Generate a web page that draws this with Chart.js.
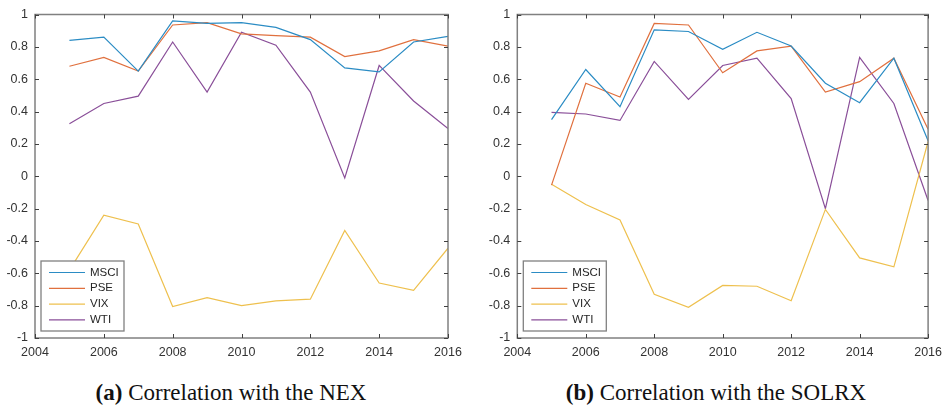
<!DOCTYPE html>
<html>
<head>
<meta charset="utf-8">
<script src="https://cdn.jsdelivr.net/npm/chart.js@4.4.0/dist/chart.umd.min.js"></script>
<style>
  body { margin: 0; background: #fff; }
  #wrap { position: relative; width: 949px; height: 407px; overflow: hidden; }
  canvas { position: absolute; top: 0; }
  .cap {
    position: absolute; top: 381px; line-height: 23px;
    font-family: 'Liberation Serif', 'Times New Roman', serif; font-size: 23px;
    color: #111; white-space: nowrap; transform: translateX(-50%);
  }
</style>
</head>
<body>
<div id="wrap">
  <canvas id="nex" width="474" height="365" style="left:0px"></canvas>
  <canvas id="solrx" width="475" height="365" style="left:474px"></canvas>
  <div class="cap" style="left:231px"><b>(a)</b> Correlation with the NEX</div>
  <div class="cap" style="left:716px"><b>(b)</b> Correlation with the SOLRX</div>
</div>
<script>
// years on the x axis
const years = [2005, 2006, 2007, 2008, 2009, 2010, 2011, 2012, 2013, 2014, 2015, 2016];
const seriesNames = ['MSCI', 'PSE', 'VIX', 'WTI'];

// (a) correlation with the NEX
const nexMSCI = [0.84, 0.86, 0.65, 0.96, 0.945, 0.95, 0.92, 0.845, 0.67, 0.645, 0.83, 0.865];
const nexPSE  = [0.68, 0.735, 0.65, 0.935, 0.95, 0.88, 0.87, 0.86, 0.74, 0.775, 0.845, 0.805];
const nexVIX  = [-0.58, -0.24, -0.295, -0.805, -0.75, -0.80, -0.77, -0.76, -0.335, -0.66, -0.705, -0.445];
const nexWTI  = [0.325, 0.45, 0.495, 0.83, 0.52, 0.89, 0.81, 0.52, -0.01, 0.685, 0.465, 0.295];

// (b) correlation with the SOLRX
const solMSCI = [0.35, 0.66, 0.43, 0.905, 0.895, 0.785, 0.89, 0.805, 0.575, 0.455, 0.73, 0.22];
const solPSE  = [-0.055, 0.575, 0.49, 0.945, 0.935, 0.64, 0.775, 0.805, 0.52, 0.585, 0.73, 0.29];
const solVIX  = [-0.05, -0.175, -0.27, -0.73, -0.81, -0.675, -0.68, -0.77, -0.205, -0.505, -0.56, 0.215];
const solWTI  = [0.395, 0.385, 0.345, 0.71, 0.475, 0.685, 0.73, 0.48, -0.2, 0.735, 0.45, -0.15];

const lineColors = ['#2b8cc4', '#e0703e', '#eec04e', '#8a4f99'];
const axisColor = '#808080';
const tickFont = { family: "'Liberation Sans', Arial, sans-serif", size: 12.5 };

// box around the axes, inward ticks on all four sides, legend in the lower left
const framePlugin = {
  id: 'frame',
  afterDraw(chart) {
    const { ctx, chartArea: ca, scales } = chart;
    ctx.save();
    ctx.strokeStyle = axisColor;
    ctx.lineWidth = 1.5;
    ctx.strokeRect(ca.left, ca.top, ca.right - ca.left, ca.bottom - ca.top);
    ctx.strokeStyle = '#404040';
    ctx.lineWidth = 1;
    ctx.beginPath();
    scales.x.ticks.forEach(t => {
      const px = Math.round(scales.x.getPixelForValue(t.value)) + 0.5;
      ctx.moveTo(px, ca.bottom); ctx.lineTo(px, ca.bottom - 4);
      ctx.moveTo(px, ca.top); ctx.lineTo(px, ca.top + 4);
    });
    scales.y.ticks.forEach(t => {
      const py = Math.round(scales.y.getPixelForValue(t.value)) + 0.5;
      ctx.moveTo(ca.left, py); ctx.lineTo(ca.left + 4, py);
      ctx.moveTo(ca.right, py); ctx.lineTo(ca.right - 4, py);
    });
    ctx.stroke();

    // legend
    const lx = ca.left + 6, h = 70, w = 83;
    const top = ca.bottom - 7 - h;
    ctx.fillStyle = '#fff';
    ctx.fillRect(lx, top, w, h);
    ctx.strokeStyle = axisColor;
    ctx.lineWidth = 1.3;
    ctx.strokeRect(lx, top, w, h);
    ctx.font = "11.5px 'Liberation Sans', Arial, sans-serif";
    ctx.textBaseline = 'middle';
    chart.data.datasets.forEach((ds, i) => {
      const y = top + 11.5 + i * 15.8;
      ctx.strokeStyle = ds.borderColor;
      ctx.lineWidth = 1.2;
      ctx.beginPath();
      ctx.moveTo(lx + 8, y); ctx.lineTo(lx + 44, y);
      ctx.stroke();
      ctx.fillStyle = '#262626';
      ctx.fillText(ds.label, lx + 49, y);
    });
    ctx.restore();
  }
};

function makeChart(id, seriesData, padLeft, padRight) {
  new Chart(document.getElementById(id), {
    type: 'line',
    data: {
      datasets: seriesData.map((vals, i) => ({
        label: seriesNames[i],
        data: years.map((yr, k) => ({ x: yr, y: vals[k] })),
        borderColor: lineColors[i],
        borderWidth: 1.2,
        pointRadius: 0,
        tension: 0,
        fill: false
      }))
    },
    options: {
      responsive: false,
      animation: false,
      devicePixelRatio: 1,
      layout: { padding: { left: padLeft, right: padRight, top: 11, bottom: 0 } },
      plugins: { legend: { display: false }, tooltip: { enabled: false } },
      scales: {
        x: {
          type: 'linear', min: 2004, max: 2016,
          grid: { display: false, drawTicks: false },
          border: { display: false },
          ticks: { stepSize: 2, padding: 7, color: '#333', font: tickFont, maxRotation: 0,
                   callback: v => String(v) },
          afterFit: s => { s.height = 27; }
        },
        y: {
          min: -1, max: 1,
          grid: { display: false, drawTicks: false },
          border: { display: false },
          ticks: { stepSize: 0.2, padding: 7, color: '#333', font: tickFont,
                   callback: v => String(+v.toFixed(1)) },
          afterFit: s => { s.width = 30; }
        }
      }
    },
    plugins: [framePlugin]
  });
}

makeChart('nex', [nexMSCI, nexPSE, nexVIX, nexWTI], 5, 26);
makeChart('solrx', [solMSCI, solPSE, solVIX, solWTI], 13.3, 17.3);
</script>
</body>
</html>
